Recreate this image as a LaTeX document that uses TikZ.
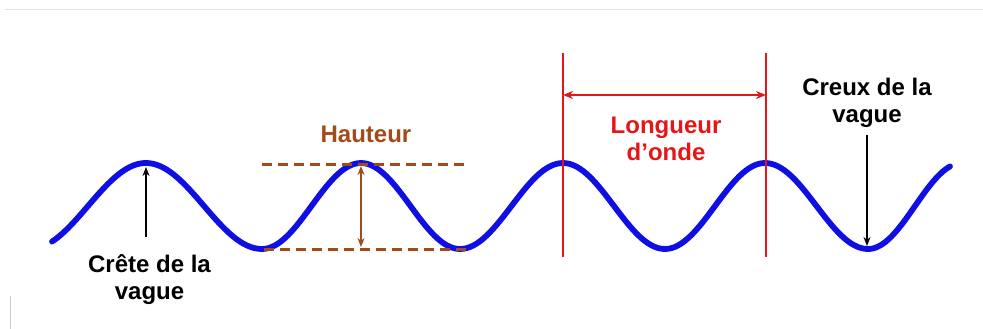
\documentclass[tikz,border=0pt]{standalone}
\usepackage{fontspec}
\setmainfont{Liberation Sans}
\usetikzlibrary{arrows.meta}
\definecolor{waveblue}{RGB}{15,15,228}
\definecolor{hbrown}{RGB}{160,75,25}
\definecolor{lred}{RGB}{228,22,22}
\definecolor{framegray}{RGB}{225,225,225}
\begin{document}
\begin{tikzpicture}[x=1pt,y=-1pt,
  lbl/.style={font=\fontsize{24}{27}\selectfont\bfseries, align=center, inner sep=0pt, anchor=base},
  wave/.style={waveblue, line width=5.8pt, line cap=round, line join=round},
  hdash/.style={hbrown, line width=3pt, dash pattern=on 10pt off 6pt},
  harrow/.style={hbrown, line width=1.8pt, {Stealth[length=9pt,width=7pt]}-{Stealth[length=9pt,width=7pt]}},
  redline/.style={lred, line width=2.4pt},
  redarrow/.style={lred, line width=2.4pt, {Stealth[length=10pt,width=8pt]}-{Stealth[length=10pt,width=8pt]}},
  blackarrow/.style={black, line width=1.8pt, -{Stealth[length=9pt,width=7pt]}}]
\useasboundingbox (0,0) rectangle (983,329);
% faint frame
\draw[framegray, line width=1pt] (5,10) -- (983,10);
\draw[framegray!80!gray, line width=1pt] (10,296) -- (10,329);
% wave
\draw[wave] plot[domain=52:146,samples=40] (\x,{206-43*cos(1.5517*(\x-146))})
  -- (146,163) cos (204,206) sin (262,249) cos (311.5,206) sin (361,163)
  cos (410.5,206) sin (460,249) cos (511.5,206) sin (563,163)
  cos (614,206) sin (665,249) cos (715,206) sin (765,163)
  cos (816.5,206) sin (868,249)
  -- plot[domain=868:950,samples=40] (\x,{206+43*cos(1.9149*(\x-868))});
% coordinates
\coordinate (htl) at (262,164); \coordinate (htr) at (468,164);
\coordinate (hbl) at (264,249); \coordinate (hbr) at (468,249);
\coordinate (hat) at (361,166); \coordinate (hab) at (361,247);
\coordinate (l1t) at (563,53); \coordinate (l1b) at (563,257);
\coordinate (l2t) at (766,53); \coordinate (l2b) at (766,257);
\coordinate (l1a) at (563,95); \coordinate (l2a) at (766,95);
\coordinate (crs) at (146,237); \coordinate (crp) at (146,167);
\coordinate (cxs) at (867,135); \coordinate (cxp) at (867,246);
% height
\draw[hdash] (htl) -- (htr);
\draw[hdash] (hbl) -- (hbr);
\draw[harrow] (hat) -- (hab);
\node[lbl, text=hbrown] (hauteur) at (366,142) {Hauteur};
% wavelength
\draw[redline] (l1t) -- (l1b);
\draw[redline] (l2t) -- (l2b);
\draw[redarrow] (l1a) -- (l2a);
\node[lbl, text=lred] (longueur) at (666,160) {Longueur\\d’onde};
% crest and trough
\node[lbl] (crete) at (149.5,299) {Crête de la\\vague};
\draw[blackarrow] (crs) -- (crp);
\node[lbl] (creux) at (867,122) {Creux de la\\vague};
\draw[blackarrow] (cxs) -- (cxp);
\end{tikzpicture}
\end{document}
